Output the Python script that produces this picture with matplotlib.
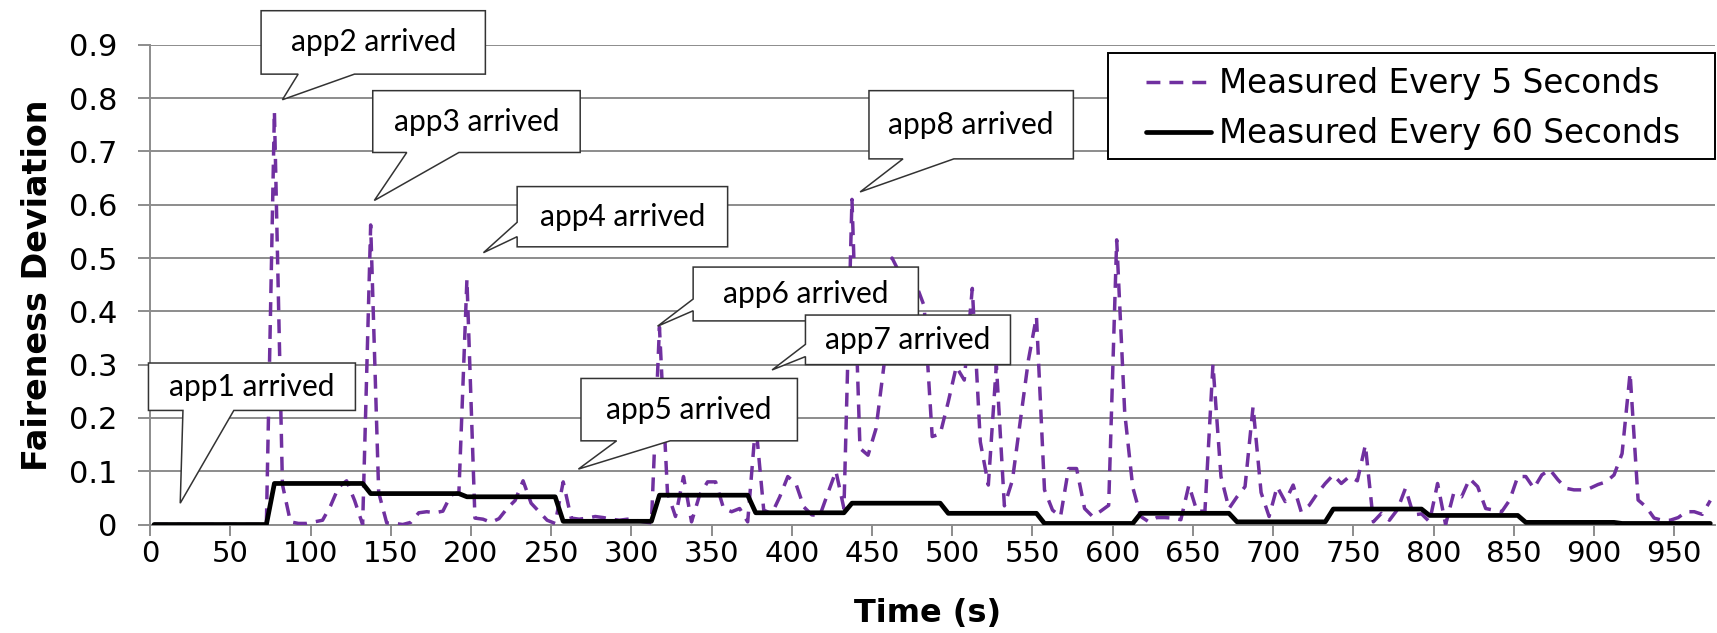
import numpy as np
import matplotlib
matplotlib.use("Agg")
import matplotlib.pyplot as plt
from matplotlib.patches import Polygon, Rectangle

# fairness deviation sampled every 5 s (points sit mid-interval)
time_s = np.arange(195) * 5 + 2.5
dev_5s = [
    0, 0, 0, 0, 0, 0, 0, 0, 0, 0, 0, 0, 0, 0, 0,
    0.775, 0.075, 0.005, 0.002, 0.002, 0.005, 0.008, 0.035, 0.07, 0.082, 0.045, 0.0,
    0.562, 0.06, 0.003, 0.002, 0.0, 0.004, 0.022, 0.024, 0.022, 0.025, 0.055, 0.06,
    0.46, 0.012, 0.01, 0.004, 0.011, 0.03, 0.045, 0.082, 0.04, 0.024, 0.008, 0.002,
    0.08, 0.012, 0.01, 0.012, 0.015, 0.013, 0.01, 0.008, 0.01, 0.008, 0.005, 0.003,
    0.37, 0.06, 0.015, 0.09, 0.005, 0.055, 0.08, 0.08, 0.03, 0.024, 0.03, 0.005,
    0.19, 0.027, 0.02, 0.052, 0.09, 0.077, 0.033, 0.018, 0.017, 0.059, 0.1, 0.03,
    0.61, 0.143, 0.13, 0.18, 0.3, 0.5, 0.47, 0.455, 0.45, 0.41, 0.165, 0.17,
    0.23, 0.296, 0.271, 0.443, 0.155, 0.074, 0.3, 0.035, 0.083, 0.196, 0.309, 0.39,
    0.065, 0.027, 0.015, 0.105, 0.105, 0.03, 0.015, 0.025, 0.036, 0.534, 0.21, 0.07,
    0.015, 0.005, 0.013, 0.013, 0.012, 0.009, 0.074, 0.025, 0.025, 0.3, 0.09, 0.03,
    0.052, 0.071, 0.221, 0.06, 0.015, 0.071, 0.043, 0.074, 0.024, 0.036, 0.058, 0.077,
    0.093, 0.077, 0.09, 0.082, 0.149, 0.005, 0.021, 0.008, 0.028, 0.068, 0.018, 0.02,
    0.005, 0.077, 0.0, 0.058, 0.052, 0.086, 0.071, 0.03, 0.027, 0.024, 0.046, 0.09,
    0.09, 0.068, 0.093, 0.103, 0.084, 0.068, 0.065, 0.065, 0.068, 0.075, 0.08, 0.093,
    0.133, 0.284, 0.046, 0.033, 0.012, 0.008, 0.008, 0.013, 0.024, 0.024, 0.019, 0.045,
]
# measured every 60 s, held until the next measurement
dev_60s = [0, 0.077, 0.058, 0.052, 0.006, 0.055, 0.022, 0.04,
           0.021, 0.002, 0.021, 0.005, 0.029, 0.017, 0.004, 0.002]
hold_counts = [15] + [12] * 15

x_ticks = list(range(0, 951, 50))
y_ticks = [0, 0.1, 0.2, 0.3, 0.4, 0.5, 0.6, 0.7, 0.8, 0.9]
y_tick_labels = ['0', '0.1', '0.2', '0.3', '0.4', '0.5', '0.6', '0.7', '0.8', '0.9']
series_labels = ['Measured Every 5 Seconds', 'Measured Every 60 Seconds']

# callouts: text, box (x0, x1, y0, y1), side of the pointer, pointer base, tip
callouts = [
    ('app1 arrived', (-1, 128, 0.214, 0.303), 'bottom', (20.5, 52.2), (18.8, 0.04)),
    ('app2 arrived', (69.2, 209, 0.845, 0.964), 'bottom', (92.3, 127.4), (82.5, 0.797)),
    ('app3 arrived', (138.8, 268.1, 0.698, 0.814), 'bottom', (160, 192.5), (139.8, 0.608)),
    ('app4 arrived', (228.8, 360, 0.521, 0.634), 'left', (0.540, 0.567), (207.8, 0.51)),
    ('app5 arrived', (268.6, 403.5, 0.157, 0.274), 'bottom', (290.8, 324.2), (267, 0.104)),
    ('app6 arrived', (338.5, 478.9, 0.382, 0.483), 'left', (0.401, 0.423), (316.3, 0.372)),
    ('app7 arrived', (408.5, 536.3, 0.30, 0.393), 'left', (0.315, 0.338), (387.7, 0.29)),
    ('app8 arrived', (448.1, 575.5, 0.686, 0.814), 'bottom', (469.3, 501), (442.6, 0.624)),
]

GRID = '#8c8c8c'
PURPLE = '#7030A0'

fig = plt.figure(figsize=(17.17, 6.33), dpi=100)
ax = fig.add_axes([0.0874, 0.1714, 0.9115, 0.7578])

line5, = ax.plot(time_s, dev_5s, color=PURPLE, lw=2.5, dashes=(4, 2.6),
                 zorder=3, label=series_labels[0])
line60, = ax.plot(time_s, np.repeat(dev_60s, hold_counts), color='black', lw=3.4,
                  solid_capstyle='round', solid_joinstyle='round', zorder=4,
                  label=series_labels[1])

ax.set_xlim(0, 975.5)
ax.set_ylim(0, 0.9)
ax.set_xticks(x_ticks)
ax.set_yticks(y_ticks)
ax.set_yticklabels(y_tick_labels)
ax.grid(axis='y', color=GRID, lw=1.4)
ax.set_axisbelow(True)
for s in ['top', 'right']:
    ax.spines[s].set_visible(False)
for s in ['left', 'bottom']:
    ax.spines[s].set_color(GRID)
    ax.spines[s].set_linewidth(1.4)
ax.tick_params(axis='y', length=8.6, width=1.4, color=GRID, pad=15, labelsize=22)
ax.tick_params(axis='x', length=8, width=1.4, color=GRID, pad=3, labelsize=21)

ax.set_ylabel('Faireness Deviation', fontsize=24, fontweight='bold', va='center', ha='center')
ax.yaxis.set_label_coords(-0.072, 0.499)
ax.set_xlabel('Time (s)', fontsize=23, fontweight='bold', va='center', ha='center')
ax.xaxis.set_label_coords(0.497, -0.186)

# speech-bubble callouts
for i, (txt, (x0, x1, y0, y1), side, (b1, b2), (tx, ty)) in enumerate(callouts):
    if side == 'bottom':
        verts = [(x0, y1), (x1, y1), (x1, y0), (b2, y0), (tx, ty), (b1, y0), (x0, y0)]
    else:
        verts = [(x0, y1), (x1, y1), (x1, y0), (x0, y0), (x0, b1), (tx, ty), (x0, b2)]
    poly = Polygon(verts, closed=True, fc='white', ec='#333333', lw=1.1,
                   zorder=6 + i * 0.1, clip_on=False)
    ax.add_patch(poly)
    ax.text((x0 + x1) / 2, (y0 + y1) / 2, txt, ha='center', va='center',
            fontsize=21.5, family='Lato', zorder=6.05 + i * 0.1, clip_on=False)

# legend frame drawn separately for Excel-like padding
frame = Rectangle((1107.6 / 1717, 1 - 158.5 / 633), (1715 - 1107.6) / 1717, 105 / 633,
                  transform=fig.transFigure, fc='white', ec='black', lw=1.4,
                  zorder=8, clip_on=False)
ax.add_patch(frame)
leg = ax.legend(handles=[line5, line60], loc='upper left',
                bbox_to_anchor=(1133 / 1717, 1 - 54 / 633), bbox_transform=fig.transFigure,
                frameon=False, prop={'family': 'DejaVu Sans', 'size': 23.5},
                handlelength=2.0, handletextpad=0.25, labelspacing=0.53,
                borderpad=0.4, borderaxespad=0)
leg.set_zorder(9)

fig.savefig('out.png', dpi=100)
